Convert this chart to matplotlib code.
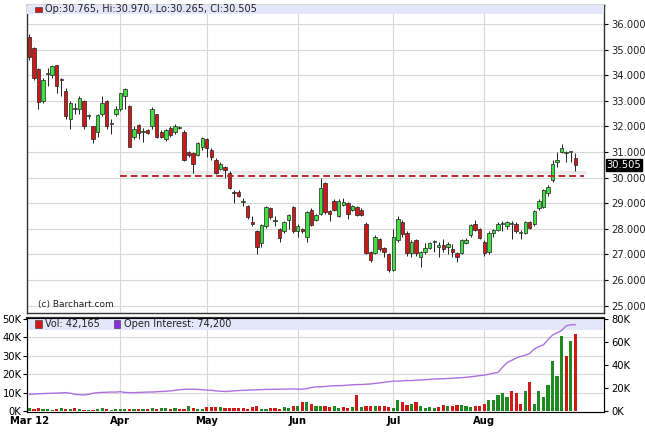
import matplotlib
matplotlib.use("Agg")
import matplotlib.pyplot as plt
from matplotlib.patches import Rectangle

opens = [35.5,35.05,34.25,33.0,34.05,34.0,34.4,33.85,33.4,32.3,32.7,32.7,33.0,32.4,32.0,31.8,32.5,33.0,32.1,32.5,
         32.7,33.2,32.8,31.6,32.05,31.8,31.85,32.0,32.5,31.8,31.5,31.95,31.8,31.95,31.8,31.0,30.95,30.9,31.2,31.5,
         31.1,30.7,30.35,30.4,30.2,29.45,29.45,29.05,28.9,28.25,27.9,27.45,28.1,28.8,28.3,28.0,27.9,28.35,28.85,27.9,
         28.0,27.7,28.75,28.35,28.6,29.8,28.7,29.1,28.5,28.95,29.0,28.75,28.85,28.75,28.2,27.1,27.05,27.6,27.25,27.0,
         26.4,27.55,28.25,27.85,27.05,27.55,26.9,27.1,27.25,27.5,27.3,27.35,27.3,27.2,27.05,27.05,27.45,27.75,28.2,28.0,
         27.5,27.1,27.85,27.95,28.2,28.1,28.2,28.2,27.85,27.85,28.25,28.2,28.8,28.85,29.4,29.9,30.6,31.0,30.95,31.0,30.765]
closes = [34.7,33.9,32.95,33.8,34.1,34.35,33.6,33.8,32.4,32.9,32.7,33.1,32.0,32.4,31.5,32.45,32.9,32.0,32.1,32.7,
          33.3,33.45,31.2,31.9,31.75,31.8,31.75,32.7,31.6,31.6,31.85,31.65,32.0,31.95,30.7,30.9,30.55,31.35,31.55,31.15,
          30.8,30.2,30.55,30.3,29.6,29.4,29.3,29.05,28.45,28.2,27.3,28.15,28.85,28.45,28.3,27.65,28.25,28.55,27.9,28.1,
          27.9,28.65,28.15,28.55,29.6,28.65,28.6,28.75,29.1,29.05,28.6,28.9,28.55,28.55,27.05,26.8,27.7,27.2,27.1,26.4,
          27.7,28.4,27.8,27.05,27.5,27.05,27.1,27.25,27.45,27.5,27.35,27.2,27.4,27.1,26.9,27.55,27.55,28.15,27.95,27.65,
          27.05,27.85,27.95,28.2,28.2,28.25,28.2,27.9,27.85,28.25,28.05,28.7,29.1,29.5,29.65,30.55,30.7,31.15,31.0,31.0,30.505]
highs = [35.6,35.1,34.3,33.9,34.3,34.4,34.4,33.9,33.5,33.0,32.9,33.2,33.05,32.5,32.0,32.5,33.2,33.05,32.3,32.8,
         33.3,33.5,32.85,32.0,32.1,31.95,31.9,32.75,32.5,31.85,31.9,32.0,32.1,32.0,31.85,31.05,31.0,31.4,31.6,31.55,
         31.15,30.75,30.6,30.45,30.25,29.5,29.5,29.2,28.95,28.5,27.95,28.2,28.9,28.85,28.5,28.05,28.3,28.6,28.9,28.2,
         28.05,28.7,28.8,28.6,30.0,29.85,28.75,29.15,29.15,29.2,29.05,28.95,28.9,28.8,28.25,27.15,27.75,27.65,27.3,27.05,
         28.0,28.5,28.35,27.9,27.55,27.6,27.15,27.45,27.5,27.55,27.5,27.6,27.5,27.4,27.1,27.6,27.65,28.2,28.35,28.05,
         27.55,27.9,28.0,28.25,28.3,28.3,28.3,28.25,27.95,28.3,28.3,28.75,29.15,29.55,29.7,30.7,31.0,31.3,31.05,31.0,30.97]
lows = [34.6,33.8,32.7,32.9,33.6,33.9,33.3,33.2,32.3,31.9,32.5,32.5,31.9,32.3,31.35,31.6,32.4,31.9,31.7,32.4,
        32.6,32.7,31.2,31.5,31.5,31.4,31.7,31.9,31.55,31.55,31.45,31.6,31.7,31.9,30.65,30.8,30.2,30.85,31.1,30.8,
        30.7,30.15,30.3,30.0,29.55,29.0,29.25,28.9,28.4,28.1,27.0,27.3,28.05,28.4,28.1,27.5,27.85,28.0,27.85,27.7,
        27.85,27.5,28.1,28.3,28.55,28.6,28.3,28.7,28.45,28.9,28.4,28.7,28.5,28.5,27.0,26.7,27.0,27.15,26.9,26.3,
        26.35,27.5,27.7,26.95,26.9,26.95,26.5,27.0,27.2,27.1,26.9,27.1,27.0,26.9,26.7,27.0,27.4,27.7,27.9,27.6,
        26.95,27.0,27.7,27.9,27.9,28.0,27.6,27.85,27.6,27.8,28.0,28.1,28.75,28.8,29.3,29.85,30.4,30.95,30.6,30.6,30.265]

volume_k = [1.5,1.2,1.5,1.3,1.0,0.3,1.0,1.5,1.2,1.0,1.8,1.0,0.8,0.8,0.8,1.0,1.5,1.2,0.8,1.0,
            1.3,1.0,1.2,1.0,1.0,1.2,1.0,1.5,1.2,1.8,1.5,1.2,1.5,1.0,1.3,3.0,1.5,1.0,1.2,
            2.0,2.0,2.0,2.0,1.5,1.5,1.5,1.5,1.5,1.2,2.0,2.5,1.2,1.0,1.5,1.5,1.0,2.2,1.5,2.5,
            2.5,5.0,5.0,4.0,3.0,2.5,3.0,2.0,2.5,1.5,2.0,1.5,2.0,8.5,2.0,3.0,2.5,3.0,3.0,3.0,2.0,
            1.5,6.0,5.0,3.5,4.0,5.0,3.0,1.5,2.0,1.5,2.0,3.5,2.5,2.5,3.5,3.5,2.5,2.0,3.0,2.5,
            4.0,6.0,6.0,8.5,10.0,7.5,11.0,10.0,4.0,11.0,16.0,4.0,11.0,7.5,14.0,27.0,19.0,41.0,30.0,38.0,42.0]

open_interest_k = [14.5,14.8,15.0,15.2,15.3,15.5,15.6,15.8,16.0,15.5,14.5,14.2,14.0,14.5,15.5,16.0,16.2,16.3,16.5,16.5,
                   16.8,16.2,16.0,16.0,16.2,16.3,16.5,16.5,16.8,17.0,17.2,17.5,18.0,18.5,18.8,19.0,19.0,18.8,18.5,18.2,
                   18.0,17.5,17.2,17.0,17.2,17.5,17.8,18.0,18.2,18.3,18.5,18.6,18.8,18.8,19.0,19.0,19.0,19.2,19.2,19.0,
                   19.0,19.5,20.5,21.0,21.0,21.3,21.8,22.0,22.0,22.2,22.5,22.8,23.0,23.0,23.3,23.5,24.0,24.5,25.0,25.5,
                   26.0,26.0,26.2,26.5,26.5,26.8,27.0,27.2,27.5,27.8,28.0,28.0,28.3,28.5,28.8,29.0,29.3,29.8,30.2,30.8,
                   31.2,32.0,33.0,33.5,38.0,42.0,44.0,46.0,47.5,48.5,50.0,54.0,56.0,57.5,62.0,66.0,68.0,70.0,74.0,75.0,75.0]

month_labels = ["Mar 12", "Apr", "May", "Jun", "Jul", "Aug"]
month_idx = [0, 20, 39, 59, 80, 100]
price_ticks = [25, 26, 27, 28, 29, 30, 31, 32, 33, 34, 35, 36]
support_level = 30.05
last_close = 30.505

GREEN = "#3fe03f"
RED = "#d01818"
GRID = "#d8d8d8"
BAND = "#e4e6fa"
n = len(closes)
x = list(range(n))

fig = plt.figure(figsize=(6.45, 4.33), dpi=100)
fig.patch.set_facecolor("white")
ax = fig.add_axes([0.042, 0.277, 0.895, 0.711])
axv = fig.add_axes([0.042, 0.049, 0.895, 0.217])

ymin, ymax = 24.71, 36.74
ax.set_xlim(-0.5, 126.4)
ax.set_ylim(ymin, ymax)
for p in price_ticks:
    ax.axhline(p, color=GRID, lw=0.8, zorder=0)
for m in month_idx[1:]:
    ax.axvline(m, color=GRID, lw=0.8, zorder=0)
    axv.axvline(m, color=GRID, lw=0.8, zorder=0)

ax.plot([month_idx[1], n + 1], [support_level + 0.18] * 2, color="#d4d4d4", lw=2.5, alpha=0.5, zorder=1)
ax.plot([month_idx[1], n + 1], [support_level] * 2, color="#c0282a", lw=1.4, ls=(0, (3.5, 2)), zorder=4)

w = 0.75
for i in x:
    o, c, h, l = opens[i], closes[i], highs[i], lows[i]
    col = GREEN if c >= o else RED
    ax.vlines(i, l, h, color="#222222", lw=0.7, zorder=2)
    bot = min(o, c)
    hgt = max(abs(c - o), 0.03)
    ax.add_patch(Rectangle((i - w / 2, bot), w, hgt, facecolor=col, edgecolor="#222222", lw=0.5, zorder=3))

ax.yaxis.tick_right()
ax.set_yticks(price_ticks)
ax.set_yticklabels([f"{p:.3f}" for p in price_ticks], fontsize=7.2, color="#222222")
ax.set_xticks([])
ax.tick_params(axis="y", length=3, pad=2)
for s in ax.spines.values():
    s.set_color("#333333")
    s.set_linewidth(1.0)

band_h = (ymax - ymin) * 0.027
ax.add_patch(Rectangle((-0.5, ymax - band_h), 127, band_h, facecolor=BAND, edgecolor="none", zorder=5))
ax.add_patch(Rectangle((1.2, ymax - band_h * 0.78), 1.5, band_h * 0.56, facecolor=RED, edgecolor="#333333", lw=0.4, zorder=6))
ax.text(3.4, ymax - band_h / 2, "Op:30.765, Hi:30.970, Lo:30.265, Cl:30.505", fontsize=7, va="center", ha="left", color="#222222", zorder=6)
ax.text(2.0, 25.05, "(c) Barchart.com", fontsize=6.5, color="#222222", va="center", zorder=6)
ax.text(1.004, (last_close - ymin) / (ymax - ymin), f"{last_close:.3f}", transform=ax.transAxes, fontsize=7.2,
        color="white", va="center", ha="left", bbox=dict(facecolor="black", edgecolor="black", pad=0.6), zorder=10, clip_on=False)

axv.set_xlim(-0.5, 126.4)
axv.set_ylim(-0.4, 50.6)
vcols = ["#1f8a1f" if i == 0 or closes[i] >= closes[i - 1] else "#d01818" for i in x]
axv.bar(x, volume_k, width=0.7, color=vcols, zorder=2)
for t in [10, 20, 30, 40]:
    axv.axhline(t, color=GRID, lw=0.8, zorder=0)
axv.set_yticks([0, 10, 20, 30, 40, 50])
axv.set_yticklabels(["0K", "10K", "20K", "30K", "40K", "50K"], fontsize=7.2)
axv.tick_params(axis="y", length=3, pad=1)
axv.set_xticks(month_idx)
axv.set_xticklabels(month_labels, fontsize=7.2, fontweight="bold")
axv.tick_params(axis="x", length=0, pad=3)
for s in axv.spines.values():
    s.set_color("#333333")
axv.spines["top"].set_linewidth(1.6)

axo = axv.twinx()
axo.set_ylim(-0.64, 81)
axo.plot(x, open_interest_k, color="#b070e0", lw=1.0, zorder=3)
axo.set_yticks([0, 20, 40, 60, 80])
axo.set_yticklabels(["0K", "20K", "40K", "60K", "80K"], fontsize=7.2)
axo.tick_params(axis="y", length=3, pad=2)

vb = 50.6 * 0.13
axv.add_patch(Rectangle((-0.5, 50.6 - vb), 127, vb, facecolor=BAND, edgecolor="none", zorder=5))
axv.add_patch(Rectangle((1.2, 50.6 - vb * 0.8), 1.5, vb * 0.6, facecolor=RED, edgecolor="#333333", lw=0.4, zorder=6))
axv.text(3.4, 50.6 - vb / 2, "Vol: 42,165", fontsize=7, va="center", color="#222222", zorder=6)
axv.add_patch(Rectangle((18.5, 50.6 - vb * 0.8), 1.5, vb * 0.6, facecolor="#8a2be2", edgecolor="#333333", lw=0.4, zorder=6))
axv.text(20.7, 50.6 - vb / 2, "Open Interest: 74,200", fontsize=7, va="center", color="#222222", zorder=6)

fig.savefig("out.png", dpi=100)
